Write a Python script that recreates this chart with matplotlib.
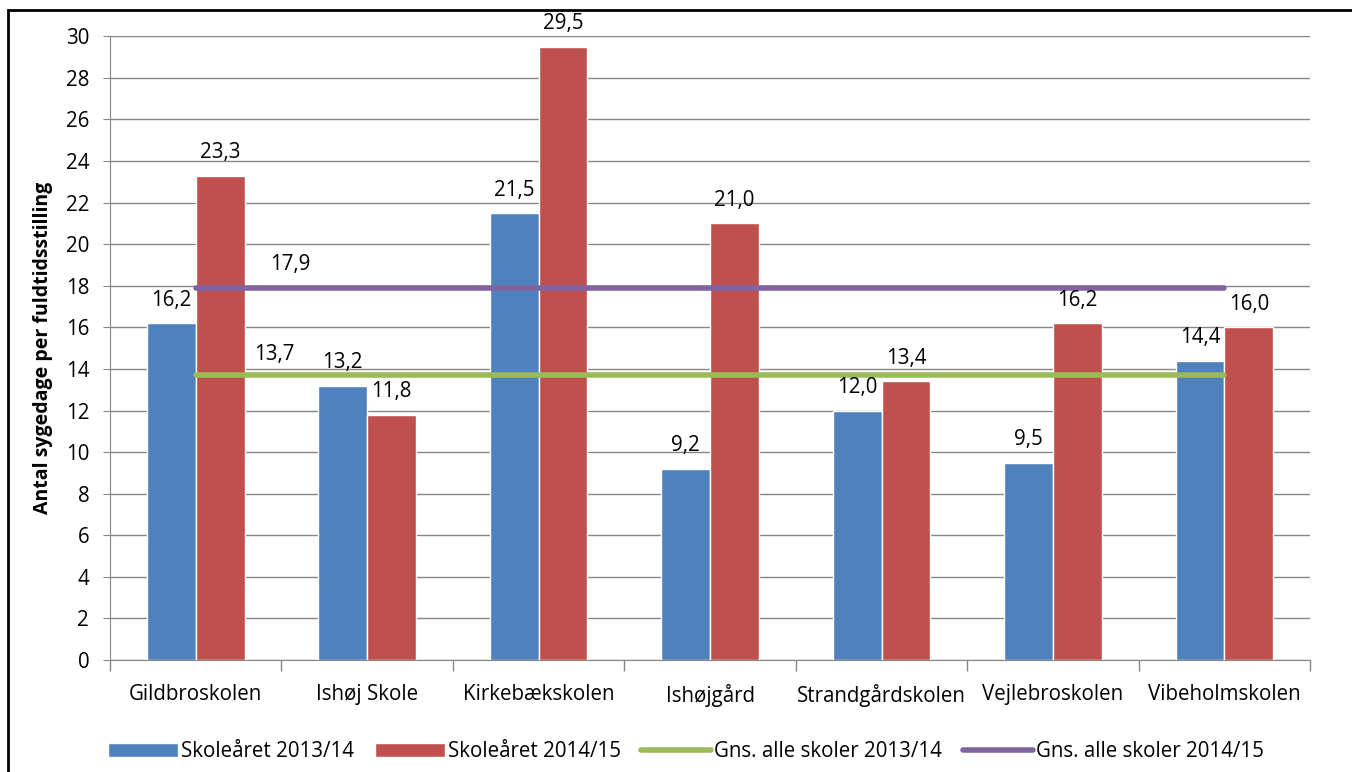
import matplotlib.pyplot as plt
import numpy as np
from matplotlib.patches import Rectangle

plt.rcParams["font.family"] = ["Open Sans", "DejaVu Sans"]

schools = ["Gildbroskolen", "Ishøj Skole", "Kirkebækskolen", "Ishøjgård",
           "Strandgårdskolen", "Vejlebroskolen", "Vibeholmskolen"]
year_1314 = [16.2, 13.2, 21.5, 9.2, 12.0, 9.5, 14.4]
year_1415 = [23.3, 11.8, 29.5, 21.0, 13.4, 16.2, 16.0]
avg_1314 = 13.7
avg_1415 = 17.9

blue = "#4F81BD"
red = "#C0504D"
green = "#9BBB59"
purple = "#8064A2"
grid_col = "#868686"
fs = 14.8

fig = plt.figure(figsize=(13.52, 7.72), dpi=100)
ax = fig.add_axes([0.0814, 0.145, 0.8876, 0.808])

x = np.arange(len(schools))
w = 0.285
b1 = ax.bar(x - w / 2, year_1314, w, color=blue, edgecolor="white", linewidth=1, zorder=3,
            label="Skoleåret 2013/14")
b2 = ax.bar(x + w / 2, year_1415, w, color=red, edgecolor="white", linewidth=1, zorder=3,
            label="Skoleåret 2014/15")

fmt = lambda v: f"{v:.1f}".replace(".", ",")
for bars, vals in ((b1, year_1314), (b2, year_1415)):
    for r, v in zip(bars, vals):
        ax.text(r.get_x() + r.get_width() / 2, v + 0.6, fmt(v), ha="center", va="bottom",
                fontsize=fs, zorder=5)

l1, = ax.plot([x[0], x[-1]], [avg_1314, avg_1314], color=green, lw=4, solid_capstyle="round",
              zorder=4, label="Gns. alle skoler 2013/14")
l2, = ax.plot([x[0], x[-1]], [avg_1415, avg_1415], color=purple, lw=4, solid_capstyle="round",
              zorder=4, label="Gns. alle skoler 2014/15")
ax.text(0.46, avg_1314 + 0.5, fmt(avg_1314), ha="center", va="bottom", fontsize=fs, zorder=5)
ax.text(0.55, avg_1415 + 0.6, fmt(avg_1415), ha="center", va="bottom", fontsize=fs, zorder=5)

ax.set_xlim(-0.5, len(schools) - 0.5)
ax.set_ylim(0, 30)
ax.set_yticks(range(0, 31, 2))
ax.tick_params(axis="y", labelsize=fs, length=5, color=grid_col, pad=10)
ax.set_xticks(x)
ax.set_xticklabels(schools, fontsize=fs)
ax.tick_params(axis="x", length=0, pad=17)
ax.set_xticks(np.arange(-0.5, len(schools), 1), minor=True)
ax.tick_params(axis="x", which="minor", length=8, color=grid_col, width=1)
ax.yaxis.grid(True, color=grid_col, lw=1, zorder=0)
for s in ("top", "right"):
    ax.spines[s].set_visible(False)
ax.spines["left"].set_color(grid_col)
ax.spines["bottom"].set_color(grid_col)
ax.set_ylabel("Antal sygedage per fuldtidsstilling", fontsize=14, fontweight="bold", labelpad=9)

ax.legend(handles=[b1, b2, l1, l2], loc="upper center", bbox_to_anchor=(0.48, -0.1),
          ncol=4, frameon=False, fontsize=fs, handlelength=3.4, handletextpad=0.15,
          columnspacing=1.0)

fig.patches.append(Rectangle((8 / 1352, -0.01), 1.1, (772 - 10) / 772 + 0.01,
                             transform=fig.transFigure, fill=False, edgecolor="black",
                             lw=2, zorder=0))

fig.savefig("out.png", dpi=100)
